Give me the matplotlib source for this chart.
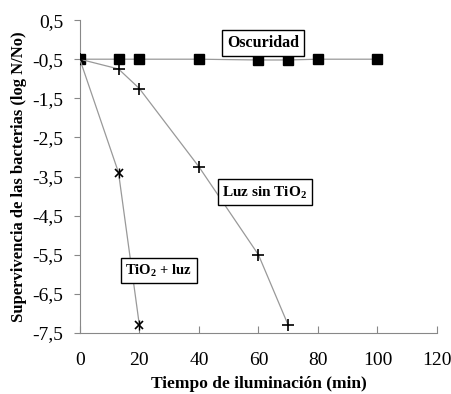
import numpy as np
import matplotlib.pyplot as plt

plt.rcParams['font.family'] = ['Liberation Serif', 'DejaVu Serif']
plt.rcParams['mathtext.fontset'] = 'custom'
plt.rcParams['mathtext.rm'] = 'Liberation Serif'
plt.rcParams['mathtext.bf'] = 'Liberation Serif:bold'

# datos
t_osc = [0, 13, 20, 40, 60, 70, 80, 100]
y_osc = [-0.5, -0.5, -0.5, -0.5, -0.52, -0.52, -0.5, -0.5]
t_luz = [0, 13, 20, 40, 60, 70]
y_luz = [-0.5, -0.75, -1.25, -3.25, -5.5, -7.3]
t_tio2 = [0, 13, 20]
y_tio2 = [-0.5, -3.4, -7.3]

xticks = [0, 20, 40, 60, 80, 100, 120]
yticks = [0.5, -0.5, -1.5, -2.5, -3.5, -4.5, -5.5, -6.5, -7.5]

fig = plt.figure(figsize=(4.51, 3.94), dpi=100)
ax = fig.add_axes([0.177, 0.155, 0.792, 0.794])

gris = '#999999'
ax.plot(t_osc, y_osc, color=gris, lw=0.9, marker='s', ms=7, mfc='black', mec='black', zorder=3)
ax.plot(t_luz, y_luz, color=gris, lw=0.9, marker='+', ms=8, mew=1.2, mec='black', zorder=3)
ax.plot(t_tio2, y_tio2, color=gris, lw=0.9, marker='x', ms=6, mew=1.2, mec='black', zorder=3)
ax.plot(t_tio2[1:], y_tio2[1:], ls='none', marker='|', ms=7, mew=1.0, mec='black', zorder=3)

caja = dict(boxstyle='square,pad=0.3', fc='white', ec='black', lw=1)
ax.text(61.5, -0.09, 'Oscuridad', ha='center', va='center', fontsize=11.5,
        fontweight='bold', bbox=caja, zorder=5)
ax.text(62.2, -3.9, r'Luz sin TiO$_\mathbf{2}$', ha='center', va='center', fontsize=11,
        fontweight='bold', bbox=caja, zorder=5)
ax.text(26.6, -5.9, r'TiO$_\mathbf{2}$ + luz', ha='center', va='center', fontsize=10.5,
        fontweight='bold', bbox=caja, zorder=5)

ax.set_xlim(0, 120)
ax.set_ylim(-7.5, 0.5)
ax.set_xticks(xticks)
ax.set_yticks(yticks)
ax.set_yticklabels([('%.1f' % v).replace('.', ',') for v in yticks])
ax.tick_params(axis='x', direction='in', length=5, color='#888888', labelsize=14, pad=14)
ax.tick_params(axis='y', direction='out', length=4, color='#888888', labelsize=14, pad=8)

for s in ['top', 'right']:
    ax.spines[s].set_visible(False)
for s in ['left', 'bottom']:
    ax.spines[s].set_color('#888888')

ax.set_xlabel('Tiempo de iluminación (min)', fontsize=12.5, fontweight='bold', labelpad=5)
ax.set_ylabel('Supervivencia de las bacterias (log N/No)', fontsize=12, fontweight='bold', labelpad=4)

plt.savefig('out.png', dpi=100)
